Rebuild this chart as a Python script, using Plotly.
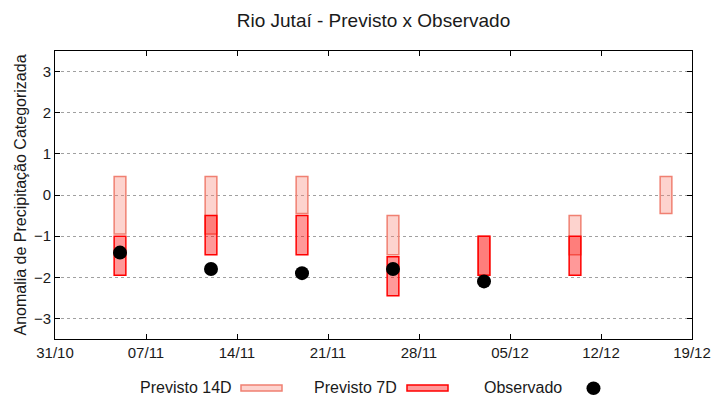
import plotly.graph_objects as go

# ---- data ----
dates = ["2023-11-05", "2023-11-12", "2023-11-19", "2023-11-26",
         "2023-12-03", "2023-12-10", "2023-12-17"]
p14_low = [-0.95, -0.95, -0.45, -1.45, -1.95, -1.45, -0.45]
p14_high = [0.45, 0.45, 0.45, -0.5, -1.0, -0.5, 0.45]

dates7 = ["2023-11-05", "2023-11-12", "2023-11-19", "2023-11-26",
          "2023-12-03", "2023-12-10"]
p7_low = [-1.95, -1.45, -1.45, -2.45, -1.95, -1.95]
p7_high = [-1.0, -0.5, -0.5, -1.5, -1.0, -1.0]

obs_dates = ["2023-11-05", "2023-11-12", "2023-11-19", "2023-11-26", "2023-12-03"]
obs_vals = [-1.4, -1.8, -1.9, -1.8, -2.1]

xtick_vals = ["2023-10-31", "2023-11-07", "2023-11-14", "2023-11-21",
              "2023-11-28", "2023-12-05", "2023-12-12", "2023-12-19"]
xtick_text = ["31/10", "07/11", "14/11", "21/11", "28/11", "05/12", "12/12", "19/12"]
ytick_vals = [-3, -2, -1, 0, 1, 2, 3]

DAY = 86400000
FONT = "Liberation Sans, Arial, sans-serif"
TXT = "#1a1a1a"

c14_fill = "rgba(250,128,114,0.35)"
c14_line = "rgb(240,128,114)"
c7_fill = "rgba(255,0,0,0.4)"
c7_line = "rgb(255,0,0)"

# page has an 8px body margin; figure is sized to fill the rest of the window
OFF = 8
W, H = 720 - OFF, 400 - OFF
PL, PR, PT, PB = 55, 692, 51, 339   # plot-area edges in window pixels

fig = go.Figure()
fig.add_trace(go.Bar(
    x=dates, base=p14_low, y=[h - l for h, l in zip(p14_high, p14_low)],
    width=0.9 * DAY, marker=dict(color=c14_fill, line=dict(color=c14_line, width=1.5)),
    name="Previsto 14D", showlegend=False, hoverinfo="skip"))
fig.add_trace(go.Bar(
    x=dates7, base=p7_low, y=[h - l for h, l in zip(p7_high, p7_low)],
    width=0.9 * DAY, marker=dict(color=c7_fill, line=dict(color=c7_line, width=1.5)),
    name="Previsto 7D", showlegend=False, hoverinfo="skip"))
fig.add_trace(go.Scatter(
    x=obs_dates, y=obs_vals, mode="markers",
    marker=dict(color="black", size=14), name="Observado", showlegend=False))

# ---- gnuplot-style legend (text left of key) ----
def px_x(px):
    return (px - PL) / float(PR - PL)

def px_y(py):
    return (PB - py) / float(PB - PT)

leg_y = 387
legend_items = [
    ("Previsto 14D", 234, 241, 282, c14_fill, c14_line),
    ("Previsto 7D", 399, 407, 448, c7_fill, c7_line),
]
for name, tx, x0, x1, fc, lc in legend_items:
    fig.add_annotation(x=px_x(tx), y=px_y(leg_y), xref="paper", yref="paper",
                       text=name, showarrow=False, xanchor="right", yanchor="middle",
                       font=dict(size=16, color=TXT, family=FONT))
    fig.add_shape(type="rect", xref="paper", yref="paper",
                  x0=px_x(x0), x1=px_x(x1), y0=px_y(385), y1=px_y(391),
                  fillcolor=fc, line=dict(color=lc, width=1.5))
fig.add_annotation(x=px_x(564), y=px_y(leg_y), xref="paper", yref="paper",
                   text="Observado", showarrow=False, xanchor="right", yanchor="middle",
                   font=dict(size=16, color=TXT, family=FONT))
fig.add_shape(type="circle", xref="paper", yref="paper",
              x0=px_x(586.5), x1=px_x(600.5), y0=px_y(381.5), y1=px_y(395),
              fillcolor="black", line=dict(color="black", width=0))

fig.update_layout(
    width=W, height=H,
    margin=dict(l=PL - OFF, r=720 - PR, t=PT - OFF, b=400 - PB, autoexpand=False),
    paper_bgcolor="white", plot_bgcolor="white",
    barmode="overlay",
    showlegend=False,
    font=dict(family=FONT, size=15, color=TXT),
    title=dict(text="Rio Jutaí - Previsto x Observado", x=0.5, xref="paper",
               y=1 - (20 - OFF) / H, yref="container", yanchor="middle",
               font=dict(size=19, family=FONT, color=TXT)),
    xaxis=dict(
        type="date", range=["2023-10-31", "2023-12-19"],
        tickvals=xtick_vals, ticktext=xtick_text,
        showgrid=False, zeroline=False,
        showline=True, linecolor="black", linewidth=1, mirror="ticks",
        ticks="inside", ticklen=5, tickcolor="black",
        tickfont=dict(size=15, family=FONT, color=TXT)),
    yaxis=dict(
        range=[-3.5, 3.5], tickvals=ytick_vals,
        showgrid=True, gridcolor="#a0a0a0", griddash="dot", gridwidth=1,
        zeroline=False,
        showline=True, linecolor="black", linewidth=1, mirror="ticks",
        ticks="inside", ticklen=5, tickcolor="black",
        tickfont=dict(size=15, family=FONT, color=TXT),
        title=dict(text="Anomalia de Precipitação Categorizada",
                   font=dict(size=16, family=FONT, color=TXT), standoff=3)),
)

fig.write_html("out.html")
